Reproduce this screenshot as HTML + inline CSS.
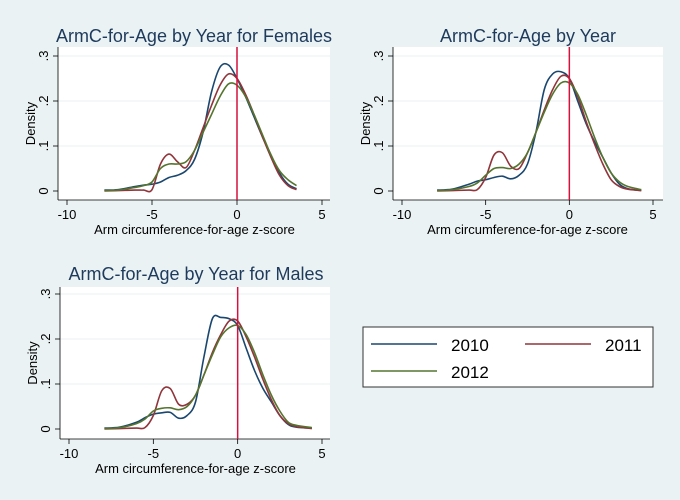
<!DOCTYPE html>
<html><head><meta charset="utf-8"><style>
body{margin:0;background:#eaf2f3;}
svg{display:block;font-family:"Liberation Sans",sans-serif;}
</style></head><body>
<svg id="chart" width="680" height="500" viewBox="0 0 680 500" xmlns="http://www.w3.org/2000/svg">
<rect width="680" height="500" fill="#eaf2f3"/>
<g>
<rect x="363" y="327" width="290" height="60" fill="#fff" stroke="#333" stroke-width="1"/>
<g><line x1="371" y1="344" x2="437" y2="344" stroke="#1a476f" stroke-width="1.5"/><text x="451" y="351" font-size="17" fill="#000">2010</text></g>
<g><line x1="525" y1="344" x2="591" y2="344" stroke="#90353b" stroke-width="1.5"/><text x="605" y="351" font-size="17" fill="#000">2011</text></g>
<g><line x1="371" y1="371" x2="437" y2="371" stroke="#55752f" stroke-width="1.5"/><text x="451" y="378" font-size="17" fill="#000">2012</text></g>
</g>
</svg>
<script>
const xTicks=[-10,-5,0,5];
const yTicks=[0,0.1,0.2,0.3];
const yTickLabels=["0",".1",".2",".3"];
const femX=[-7.8,-7,-6,-5.5,-5,-4.5,-4,-3.5,-3,-2.5,-2,-1.5,-1,-0.5,0,0.5,1,1.5,2,2.5,3,3.5];
const fem2010=[.002,.003,.01,.013,.015,.02,.03,.035,.045,.07,.13,.22,.275,.28,.25,.21,.165,.12,.08,.04,.015,.005];
const fem2011=[0,.001,.002,.002,.003,.06,.082,.065,.052,.09,.14,.19,.235,.26,.25,.215,.17,.12,.075,.035,.012,.003];
const fem2012=[.001,.002,.008,.012,.02,.05,.06,.06,.065,.09,.13,.17,.21,.238,.235,.21,.17,.125,.08,.045,.025,.012];
const allX=[-7.9,-7,-6,-5.5,-5,-4.5,-4,-3.5,-3,-2.5,-2,-1.5,-1,-0.5,0,0.5,1,1.5,2,2.5,3,3.5,4.3];
const all2010=[.002,.004,.015,.022,.025,.03,.033,.027,.035,.06,.13,.225,.26,.265,.25,.2,.15,.11,.075,.04,.015,.005,.001];
const all2011=[0,.001,.002,.003,.03,.08,.085,.055,.05,.085,.13,.18,.225,.255,.25,.21,.155,.105,.06,.025,.01,.004,.001];
const all2012=[.001,.003,.01,.018,.035,.05,.052,.05,.06,.085,.13,.175,.215,.24,.24,.215,.17,.12,.075,.04,.02,.01,.003];
const maleX=[-7.9,-7,-6,-5.5,-5,-4.5,-4,-3.5,-3,-2.5,-2,-1.5,-1,-0.5,0,0.5,1,1.5,2,2.5,3,3.5,4.4];
const male2010=[.002,.004,.015,.025,.033,.036,.037,.024,.03,.06,.16,.245,.248,.245,.23,.18,.13,.09,.06,.03,.01,.004,.002];
const male2011=[0,.001,.002,.003,.03,.085,.09,.055,.055,.075,.12,.17,.21,.24,.24,.205,.16,.11,.065,.03,.012,.005,.001];
const male2012=[.001,.003,.012,.022,.04,.046,.047,.043,.05,.075,.12,.165,.205,.225,.23,.21,.17,.12,.075,.04,.015,.008,.003];

const NS="http://www.w3.org/2000/svg";
const svg=document.getElementById('chart');
function mk(tag,attrs,parent){const e=document.createElementNS(NS,tag);for(const k in attrs)e.setAttribute(k,attrs[k]);parent.appendChild(e);return e;}
function smooth(pts){let d="M"+pts[0][0]+","+pts[0][1];for(let i=0;i<pts.length-1;i++){const p0=pts[Math.max(i-1,0)],p1=pts[i],p2=pts[i+1],p3=pts[Math.min(i+2,pts.length-1)];const c1=[p1[0]+(p2[0]-p0[0])/6,p1[1]+(p2[1]-p0[1])/6],c2=[p2[0]-(p3[0]-p1[0])/6,p2[1]-(p3[1]-p1[1])/6];d+=" C"+c1[0].toFixed(2)+","+c1[1].toFixed(2)+" "+c2[0].toFixed(2)+","+c2[1].toFixed(2)+" "+p2[0].toFixed(2)+","+p2[1].toFixed(2);}return d;}
const panels=[
 {name:'females',title:'ArmC-for-Age by Year for Females',tx:194,ty:42,left:58,right:330,top:47,bottom:200,x0:67,x1:322,y0:191,y3:56,xs:femX,s:[fem2010,fem2011,fem2012]},
 {name:'all',title:'ArmC-for-Age by Year',tx:528,ty:42,left:393,right:663,top:47,bottom:200,x0:402,x1:653,y0:191,y3:56,xs:allX,s:[all2010,all2011,all2012]},
 {name:'males',title:'ArmC-for-Age by Year for Males',tx:196,ty:280,left:60,right:330,top:287,bottom:439,x0:69,x1:322,y0:429,y3:294,xs:maleX,s:[male2010,male2011,male2012]}
];
const colors=['#1a476f','#90353b','#55752f'];const years=['2010','2011','2012'];
panels.forEach(p=>{
 const g=mk('g',{},svg);
 
 
 const X=v=>p.x0+(v+10)/15*(p.x1-p.x0);
 const Y=v=>p.y0+v/0.3*(p.y3-p.y0);
 const bg=mk('rect',{x:p.left,y:p.top,width:p.right-p.left,height:p.bottom-p.top,fill:'#fff'},g);
 
 
 yTicks.forEach((t,i)=>{
  if(t>0){const gl=mk('line',{x1:p.left,x2:p.right,y1:Y(t),y2:Y(t),stroke:'#eaf2f3','stroke-width':1},g);
  
  }
  mk('line',{x1:p.left-5,x2:p.left,y1:Y(t),y2:Y(t),stroke:'#000','stroke-width':0.8},g);
  const tl=mk('text',{x:p.left-10,y:Y(t),'font-size':13,'text-anchor':'middle',transform:'rotate(-90 '+(p.left-10)+' '+Y(t)+')',fill:'#000'},g);
  tl.textContent=yTickLabels[i];
  
  
 });
 xTicks.forEach(t=>{
  mk('line',{x1:X(t),x2:X(t),y1:p.bottom,y2:p.bottom+5,stroke:'#000','stroke-width':0.8},g);
  const tl=mk('text',{x:X(t),y:p.bottom+19,'font-size':13,'text-anchor':'middle',fill:'#000'},g);
  tl.textContent=String(t);
  
  
 });
 mk('line',{x1:p.left,x2:p.left,y1:p.top,y2:p.bottom,stroke:'#000','stroke-width':0.8},g);
 mk('line',{x1:p.left,x2:p.right,y1:p.bottom,y2:p.bottom,stroke:'#000','stroke-width':0.8},g);
 p.s.forEach((ys,k)=>{
  const pts=p.xs.map((x,i)=>[X(x),Y(ys[i])]);
  const path=mk('path',{d:smooth(pts),fill:'none',stroke:colors[k],'stroke-width':1.6},g);
  
  
 });
 const vl=mk('line',{x1:X(0),x2:X(0),y1:p.top,y2:p.bottom,stroke:'#d6103f','stroke-width':1.5},g);
 
 
 const tt=mk('text',{x:p.tx,y:p.ty,'font-size':18,'text-anchor':'middle',fill:'#1e3a5c'},g);
 tt.textContent=p.title;
 
 
 const xt=mk('text',{x:(p.x0+p.x1)/2,y:p.bottom+34,'font-size':13,'text-anchor':'middle',fill:'#000'},g);
 xt.textContent='Arm circumference-for-age z-score';
 
 
 const yc=(p.top+p.bottom)/2;const yx=p.left-23;
 const yt=mk('text',{x:yx,y:yc,'font-size':13,'text-anchor':'middle',transform:'rotate(-90 '+yx+' '+yc+')',fill:'#000'},g);
 yt.textContent='Density';
 
 
});
</script>
</body></html>
